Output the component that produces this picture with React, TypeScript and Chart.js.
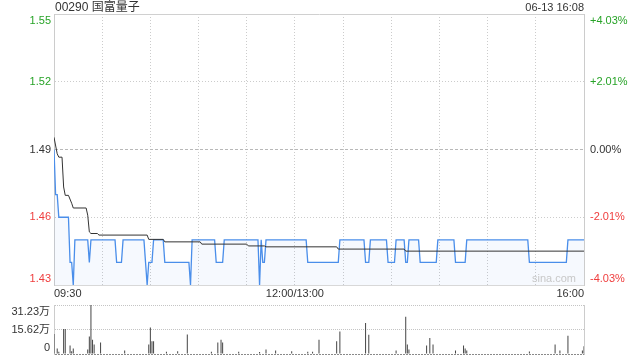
import React, { useEffect, useRef } from 'react';
import { Chart, registerables } from 'chart.js';

Chart.register(...registerables);

const stockTitle = '00290 国富量子';
const timestamp = '06-13 16:08';
const watermark = 'sina.com';
const prevClose = 1.49;

// price axis
const priceMin = 1.43;
const priceMax = 1.55;
const priceTicks = [1.43, 1.46, 1.49, 1.52, 1.55];

// time axis (minutes of trading since 09:30, lunch break removed)
const timeMin = 0;
const timeMax = 330;
const timeGridMinutes = [0, 30, 60, 90, 120, 150, 180, 210, 240, 270, 300, 330];
const timeLabelMinutes = [0, 150, 330];
const timeLabelTexts = ['09:30', '12:00/13:00', '16:00'];

// last price (points where the line changes)
const priceMinutes = [
  0, 1, 2, 3, 9, 10, 11, 12, 13, 21, 22, 23, 38, 39, 42, 43, 56, 57, 58, 59, 61, 62, 68, 69, 84, 85, 86,
  100, 101, 105, 106, 127, 128, 129, 130, 131, 132, 157, 158, 177, 178, 193, 194, 196, 197, 207, 208,
  212, 213, 218, 219, 220, 221, 227, 228, 238, 239, 249, 250, 256, 257, 295, 296, 319, 320, 330,
];
const priceValues = [
  1.49, 1.47, 1.47, 1.46, 1.46, 1.44, 1.44, 1.43, 1.45, 1.45, 1.44, 1.45, 1.45, 1.44, 1.44, 1.45, 1.45, 1.44, 1.43, 1.44, 1.44, 1.45, 1.45, 1.44, 1.44, 1.43, 1.45,
  1.45, 1.44, 1.44, 1.45, 1.45, 1.43, 1.45, 1.44, 1.44, 1.45, 1.45, 1.44, 1.44, 1.45, 1.45, 1.44, 1.44, 1.45, 1.45, 1.44,
  1.44, 1.45, 1.45, 1.44, 1.44, 1.45, 1.45, 1.44, 1.44, 1.45, 1.45, 1.44, 1.44, 1.45, 1.45, 1.44, 1.44, 1.45, 1.45,
];

// average price
const avgMinutes = [0, 2, 3, 5, 6, 7, 9, 11, 12, 20, 21, 22, 23, 27, 28, 58, 59, 68, 69, 91, 92, 120, 121, 131, 132, 176, 177, 218, 219, 330];
const avgValues = [
  1.4954, 1.4881, 1.4866, 1.4866, 1.4734, 1.4697, 1.4697, 1.4662, 1.4641, 1.4641, 1.4609, 1.4535, 1.4528, 1.4528, 1.4521,
  1.4521, 1.4502, 1.4502, 1.4491, 1.4491, 1.4481, 1.4481, 1.4473, 1.4473, 1.4469, 1.4469, 1.4459, 1.4459, 1.445, 1.445,
];

// volume
const volMax = 312300;
const volTicks = [0, 156150, 312300];
const volTickLabels = ['0', '15.62万', '31.23万'];
const volMinutes = [
  0, 2, 3, 6, 7, 10, 11, 12, 21, 22, 23, 24, 25, 29, 44, 59, 60, 61, 62, 70, 77, 83, 98, 102, 104, 105, 115, 128, 132, 138,
  148, 158, 161, 165, 176, 178, 194, 196, 213, 219, 220, 221, 232, 234, 236, 250, 255, 256, 257, 296, 312, 315, 320, 329, 330,
];
const volValues = [
  127000, 35000, 14000, 159000, 159000, 54000, 18000, 35000, 28000, 112000, 312300, 91000, 60000, 74000, 22000, 60000, 169000, 81000, 81000, 14000, 18000, 125000, 14000, 74000, 91000, 74000, 14000, 12000, 28000, 22000,
  18000, 14000, 14000, 91000, 81000, 144000, 197000, 123000, 22000, 238000, 60000, 28000, 54000, 102000, 60000, 22000, 54000, 35000, 22000, 16000, 60000, 22000, 117000, 22000, 49000,
];

const GREEN = '#27a327';
const RED = '#ef3d3d';
const DARK = '#333333';
const FONT = "'Liberation Sans', Arial, 'Noto Sans CJK SC', sans-serif";

const edgeLabel = (text: string, index: number, count: number): any =>
  index === count - 1 ? ['', text] : index === 0 ? [text, ''] : text;

const colorFor = (v: number) => (Math.abs(v - prevClose) < 1e-6 ? DARK : v > prevClose ? GREEN : RED);

const tickFont = { family: FONT, size: 11, lineHeight: '13px' };

const zeroPad = (s: any) => {
  s.paddingTop = 0;
  s.paddingBottom = 0;
  s.paddingLeft = 0;
  s.paddingRight = 0;
};

export default function App() {
  const priceRef = useRef<HTMLCanvasElement | null>(null);
  const volRef = useRef<HTMLCanvasElement | null>(null);

  useEffect(() => {
    const priceCanvas = priceRef.current!;
    const volCanvas = volRef.current!;

    const priceChart = new Chart(priceCanvas, {
      type: 'line',
      data: {
        datasets: [
          {
            label: 'avg',
            data: avgMinutes.map((m, i) => ({ x: m, y: avgValues[i] })),
            borderColor: '#333333',
            borderWidth: 1,
            pointRadius: 0,
            tension: 0,
            fill: false,
          },
          {
            label: 'price',
            data: priceMinutes.map((m, i) => ({ x: m, y: priceValues[i] })),
            borderColor: '#4a8eea',
            borderWidth: 1.3,
            pointRadius: 0,
            tension: 0,
            fill: 'start',
            backgroundColor: 'rgba(74,142,234,0.05)',
          },
        ],
      },
      options: {
        animation: false,
        responsive: false,
        devicePixelRatio: 1,
        layout: { padding: { top: 14, left: 0, right: 0, bottom: 0 } },
        plugins: { legend: { display: false }, tooltip: { enabled: false } },
        scales: {
          x: {
            type: 'linear',
            min: timeMin,
            max: timeMax,
            offset: false,
            afterBuildTicks: (s: any) => {
              s.ticks = timeGridMinutes.map((v) => ({ value: v }));
            },
            afterFit: (s: any) => {
              s.height = 15;
              zeroPad(s);
            },
            ticks: {
              autoSkip: false,
              maxRotation: 0,
              minRotation: 0,
              align: 'inner',
              padding: 2,
              color: DARK,
              font: tickFont,
              callback: (v: any) => {
                const i = timeLabelMinutes.indexOf(Number(v));
                return i >= 0 ? timeLabelTexts[i] : '';
              },
            },
            grid: {
              drawTicks: false,
              color: (ctx: any) => {
                const v = ctx.tick ? ctx.tick.value : -1;
                return v === timeMin || v === timeMax ? 'rgba(0,0,0,0)' : '#cccccc';
              },
            },
            border: { display: true, color: '#d8d8d8', width: 1, dash: [1, 2] },
          },
          y: {
            type: 'linear',
            position: 'left',
            min: priceMin,
            max: priceMax,
            afterBuildTicks: (s: any) => {
              s.ticks = priceTicks.map((v) => ({ value: v }));
            },
            afterFit: (s: any) => {
              s.width = 54;
              zeroPad(s);
            },
            ticks: {
              autoSkip: false,
              padding: 3,
              font: tickFont,
              color: (ctx: any) => colorFor(ctx.tick.value),
              callback: (v: any, i: number, t: any[]) => edgeLabel(Number(v).toFixed(2), i, t.length),
            },
            grid: {
              drawTicks: false,
              color: (ctx: any) => {
                const v = ctx.tick ? ctx.tick.value : 0;
                if (Math.abs(v - prevClose) < 1e-6) return '#b8b8b8';
                if (v === priceMin || v === priceMax) return '#d0d0d0';
                return '#cccccc';
              },
            },
            border: {
              display: true,
              color: '#cccccc',
              width: 1,
              dash: (ctx: any) => {
                const v = ctx.tick ? ctx.tick.value : priceMin;
                if (Math.abs(v - prevClose) < 1e-6) return [3, 2];
                if (v === priceMin || v === priceMax) return [];
                return [1, 2];
              },
            },
          },
          yR: {
            type: 'linear',
            position: 'right',
            min: priceMin,
            max: priceMax,
            afterBuildTicks: (s: any) => {
              s.ticks = priceTicks.map((v) => ({ value: v }));
            },
            afterFit: (s: any) => {
              s.width = 56;
              zeroPad(s);
            },
            ticks: {
              autoSkip: false,
              padding: 6,
              font: tickFont,
              color: (ctx: any) => colorFor(ctx.tick.value),
              callback: (v: any, i: number, t: any[]) => {
                const pct = ((Number(v) - prevClose) / prevClose) * 100;
                const txt = (pct > 0.0001 ? '+' : '') + pct.toFixed(2) + '%';
                return edgeLabel(txt, i, t.length);
              },
            },
            grid: { drawTicks: false, drawOnChartArea: false },
            border: { display: true, color: '#cccccc', width: 1 },
          },
        },
      } as any,
    });

    const volChart = new Chart(volCanvas, {
      type: 'bar',
      data: {
        datasets: [
          {
            label: 'volume',
            data: volMinutes.map((m, i) => ({ x: m, y: volValues[i] })),
            backgroundColor: '#444444',
            borderWidth: 0,
            inflateAmount: 0,
            barThickness: 1,
          },
        ],
      },
      options: {
        animation: false,
        responsive: false,
        devicePixelRatio: 1,
        layout: { padding: { top: 5, left: 0, right: 0, bottom: 6 } },
        plugins: { legend: { display: false }, tooltip: { enabled: false } },
        scales: {
          x: {
            type: 'linear',
            min: timeMin,
            max: timeMax,
            offset: false,
            display: false,
            grid: { offset: false },
          },
          y: {
            type: 'linear',
            position: 'left',
            min: 0,
            max: volMax,
            afterBuildTicks: (s: any) => {
              s.ticks = volTicks.map((v) => ({ value: v }));
            },
            afterFit: (s: any) => {
              s.width = 54;
              zeroPad(s);
            },
            ticks: {
              autoSkip: false,
              padding: 4,
              font: tickFont,
              color: DARK,
              callback: (v: any, i: number, t: any[]) => edgeLabel(volTickLabels[i], i, t.length),
            },
            grid: {
              drawTicks: false,
              color: (ctx: any) => (ctx.tick && ctx.tick.value === 0 ? '#8a8a8a' : '#c4c4c4'),
            },
            border: {
              display: true,
              color: '#cccccc',
              width: 1,
              dash: (ctx: any) => (ctx.tick && ctx.tick.value === 0 ? [2, 1] : [1, 1]),
            },
          },
          yR: {
            type: 'linear',
            position: 'right',
            min: 0,
            max: volMax,
            afterFit: (s: any) => {
              s.width = 56;
              zeroPad(s);
            },
            ticks: { display: false },
            grid: { drawTicks: false, drawOnChartArea: false },
            border: { display: true, color: '#cccccc', width: 1 },
          },
        },
      } as any,
    });

    return () => {
      priceChart.destroy();
      volChart.destroy();
    };
  }, []);

  return (
    <div
      style={{
        position: 'fixed',
        left: 0,
        top: 0,
        width: 640,
        height: 360,
        background: '#ffffff',
        fontFamily: FONT,
        overflow: 'hidden',
      }}
    >
      <div style={{ position: 'absolute', left: 0, top: 0, width: 640, height: 300 }}>
        <canvas ref={priceRef} width={640} height={300} style={{ display: 'block', width: 640, height: 300 }} />
      </div>
      <div style={{ position: 'absolute', left: 0, top: 300, width: 640, height: 60 }}>
        <canvas ref={volRef} width={640} height={60} style={{ display: 'block', width: 640, height: 60 }} />
      </div>
      <div
        style={{
          position: 'absolute',
          left: 55,
          top: 0,
          fontSize: 12,
          lineHeight: '15px',
          color: DARK,
          whiteSpace: 'nowrap',
        }}
      >
        {stockTitle}
      </div>
      <div
        style={{
          position: 'absolute',
          right: 56,
          top: 0,
          fontSize: 11,
          lineHeight: '15px',
          color: DARK,
          whiteSpace: 'nowrap',
        }}
      >
        {timestamp}
      </div>
      <div
        style={{
          position: 'absolute',
          left: 532,
          top: 271,
          fontSize: 11,
          lineHeight: '15px',
          color: '#c8c8c8',
          whiteSpace: 'nowrap',
        }}
      >
        {watermark}
      </div>
    </div>
  );
}
